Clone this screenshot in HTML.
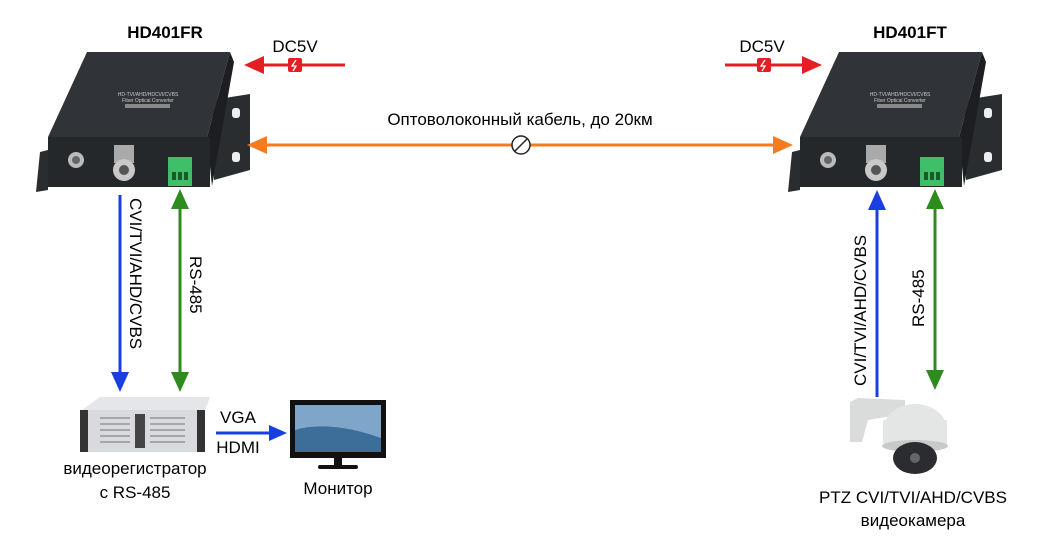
<!DOCTYPE html>
<html><head><meta charset="utf-8"><style>
html,body{margin:0;padding:0;background:#fff;}
svg{display:block;font-family:"Liberation Sans",sans-serif;}
</style></head><body>
<svg width="1044" height="548" viewBox="0 0 1044 548" xmlns="http://www.w3.org/2000/svg">
<defs>
<g id="dev">
  <path d="M212 100 L250 94 L250 170 L214 180 Z" fill="#2a2d30"/>
  <rect x="232" y="108" width="8" height="10" rx="3" fill="#eee"/>
  <rect x="232" y="152" width="8" height="10" rx="3" fill="#eee"/>
  <path d="M40 152 L48 150 L48 190 L36 192 Z" fill="#2a2d30"/>
  <path d="M207 137 L230 52 L234 62 L212 186 Z" fill="#1c1e21"/>
  <path d="M87 52 L230 52 L207 137 L48 137 Z" fill="#303338"/>
  <text x="148" y="96" font-size="5" fill="#ccc" text-anchor="middle">HD-TVI/AHD/HDCVI/CVBS</text>
  <text x="148" y="102" font-size="5" fill="#ccc" text-anchor="middle">Fiber Optical Converter</text>
  <rect x="125" y="104" width="45" height="4" fill="#888"/>
  <rect x="48" y="137" width="162" height="50" fill="#25282b"/>
  <circle cx="76" cy="160" r="8" fill="#bbb"/><circle cx="76" cy="160" r="4" fill="#666"/>
  <rect x="114" y="145" width="20" height="18" fill="#aaa"/>
  <circle cx="124" cy="170" r="11" fill="#c8c8c8"/><circle cx="124" cy="170" r="5" fill="#555"/>
  <rect x="168" y="157" width="24" height="29" fill="#3fbf6a"/>
  <rect x="172" y="172" width="4" height="8" fill="#1a5a2a"/><rect x="178" y="172" width="4" height="8" fill="#1a5a2a"/><rect x="184" y="172" width="4" height="8" fill="#1a5a2a"/>
</g>
</defs>

<use href="#dev"/>
<use href="#dev" transform="translate(752,0)"/>

<text x="165" y="38" font-size="17" font-weight="bold" text-anchor="middle">HD401FR</text>
<text x="910" y="38" font-size="17" font-weight="bold" text-anchor="middle">HD401FT</text>

<text x="295" y="52" font-size="17" text-anchor="middle">DC5V</text>
<line x1="260" y1="65" x2="345" y2="65" stroke="#e31e24" stroke-width="3"/>
<polygon points="244,65 264,56 264,74" fill="#e31e24"/>
<rect x="288" y="58" width="14" height="14" rx="2" fill="#e31e24"/>
<path d="M296 60 L292 66 L296 66 L293 71" stroke="#fff" stroke-width="1.3" fill="none"/>
<text x="762" y="52" font-size="17" text-anchor="middle">DC5V</text>
<line x1="725" y1="65" x2="805" y2="65" stroke="#e31e24" stroke-width="3"/>
<polygon points="822,65 802,56 802,74" fill="#e31e24"/>
<rect x="757" y="58" width="14" height="14" rx="2" fill="#e31e24"/>
<path d="M765 60 L761 66 L765 66 L762 71" stroke="#fff" stroke-width="1.3" fill="none"/>

<text x="520" y="125" font-size="17" text-anchor="middle">Оптоволоконный кабель, до 20км</text>
<line x1="262" y1="145" x2="778" y2="145" stroke="#f47b20" stroke-width="3"/>
<polygon points="247,145 267,136 267,154" fill="#f47b20"/>
<polygon points="793,145 773,136 773,154" fill="#f47b20"/>
<circle cx="521" cy="145" r="9" fill="#fff" stroke="#222" stroke-width="1.5"/>
<line x1="515" y1="151" x2="527" y2="139" stroke="#222" stroke-width="1.5"/>

<line x1="120" y1="195" x2="120" y2="375" stroke="#1a3fe0" stroke-width="3"/>
<polygon points="120,392 111,372 129,372" fill="#1a3fe0"/>
<text transform="translate(130,198) rotate(90)" font-size="17">CVI/TVI/AHD/CVBS</text>
<line x1="180" y1="205" x2="180" y2="375" stroke="#2e8b1e" stroke-width="3"/>
<polygon points="180,189 171,209 189,209" fill="#2e8b1e"/>
<polygon points="180,392 171,372 189,372" fill="#2e8b1e"/>
<text transform="translate(190,256) rotate(90)" font-size="17">RS-485</text>

<line x1="877" y1="207" x2="877" y2="397" stroke="#1a3fe0" stroke-width="3"/>
<polygon points="877,190 868,210 886,210" fill="#1a3fe0"/>
<text transform="translate(866,386) rotate(-90)" font-size="17">CVI/TVI/AHD/CVBS</text>
<line x1="935" y1="205" x2="935" y2="372" stroke="#2e8b1e" stroke-width="3"/>
<polygon points="935,189 926,209 944,209" fill="#2e8b1e"/>
<polygon points="935,390 926,370 944,370" fill="#2e8b1e"/>
<text transform="translate(924,327) rotate(-90)" font-size="17">RS-485</text>

<path d="M100 397 L210 397 L205 410 L82 410 Z" fill="#e4e6ea"/>
<rect x="80" y="410" width="125" height="42" fill="#d8dadd"/>
<rect x="80" y="410" width="8" height="42" fill="#333"/>
<rect x="197" y="410" width="8" height="42" fill="#333"/>
<rect x="135" y="414" width="10" height="34" fill="#444"/>
<g stroke="#888" stroke-width="1.2">
<line x1="100" y1="418" x2="130" y2="418"/><line x1="100" y1="424" x2="130" y2="424"/><line x1="100" y1="430" x2="130" y2="430"/><line x1="100" y1="436" x2="130" y2="436"/><line x1="100" y1="442" x2="130" y2="442"/>
<line x1="150" y1="418" x2="185" y2="418"/><line x1="150" y1="424" x2="185" y2="424"/><line x1="150" y1="430" x2="185" y2="430"/><line x1="150" y1="436" x2="185" y2="436"/><line x1="150" y1="442" x2="185" y2="442"/>
</g>
<text x="135" y="474" font-size="17" text-anchor="middle">видеорегистратор</text>
<text x="135" y="498" font-size="17" text-anchor="middle">с RS-485</text>

<text x="238" y="423" font-size="17" text-anchor="middle">VGA</text>
<text x="238" y="453" font-size="17" text-anchor="middle">HDMI</text>
<line x1="216" y1="433" x2="272" y2="433" stroke="#1a3fe0" stroke-width="3"/>
<polygon points="287,433 269,425 269,441" fill="#1a3fe0"/>

<rect x="290" y="400" width="96" height="58" fill="#111"/>
<rect x="295" y="405" width="86" height="47" fill="#7fa6c9"/>
<path d="M295 430 Q330 420 381 438 L381 452 L295 452 Z" fill="#3d6e9a"/>
<rect x="334" y="458" width="8" height="8" fill="#111"/>
<rect x="318" y="465" width="40" height="4" rx="2" fill="#111"/>
<text x="338" y="494" font-size="17" text-anchor="middle">Монитор</text>

<path d="M850 402 L858 398 L905 400 L905 414 L868 420 L862 442 L850 442 Z" fill="#dadcdc"/>
<ellipse cx="915" cy="430" rx="32" ry="26" fill="#e4e6e6"/>
<rect x="883" y="420" width="64" height="24" fill="#e4e6e6"/>
<ellipse cx="915" cy="446" rx="33" ry="6" fill="#c8caca"/>
<ellipse cx="915" cy="458" rx="22" ry="16" fill="#2a2c30"/>
<circle cx="915" cy="458" r="5" fill="#666"/>
<text x="913" y="503" font-size="17" text-anchor="middle">PTZ CVI/TVI/AHD/CVBS</text>
<text x="913" y="526" font-size="17" text-anchor="middle">видеокамера</text>
</svg>
</body></html>
